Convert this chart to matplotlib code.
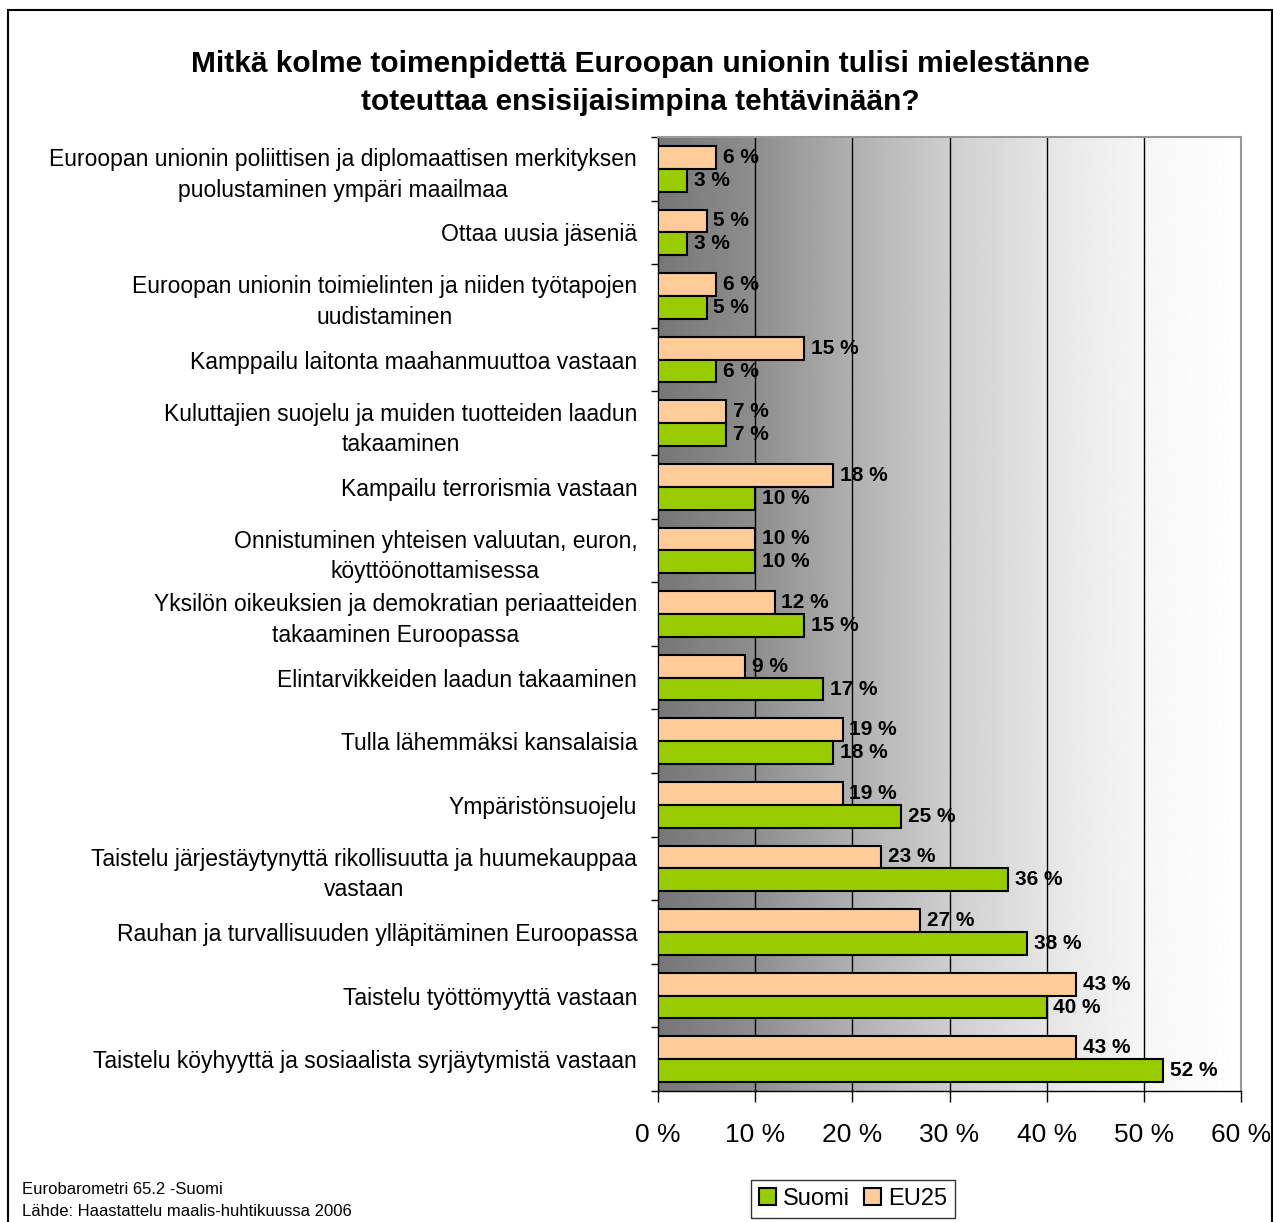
import numpy as np
import matplotlib.pyplot as plt
from matplotlib.patches import Rectangle

plt.rcParams['font.family'] = ['Liberation Sans', 'DejaVu Sans']

categories = [
    "Euroopan unionin poliittisen ja diplomaattisen merkityksen\npuolustaminen ympäri maailmaa",
    "Ottaa uusia jäseniä",
    "Euroopan unionin toimielinten ja niiden työtapojen\nuudistaminen",
    "Kamppailu laitonta maahanmuuttoa vastaan",
    "Kuluttajien suojelu ja muiden tuotteiden laadun\ntakaaminen",
    "Kampailu terrorismia vastaan",
    "Onnistuminen yhteisen valuutan, euron,\nköyttöönottamisessa",
    "Yksilön oikeuksien ja demokratian periaatteiden\ntakaaminen Euroopassa",
    "Elintarvikkeiden laadun takaaminen",
    "Tulla lähemmäksi kansalaisia",
    "Ympäristönsuojelu",
    "Taistelu järjestäytynyttä rikollisuutta ja huumekauppaa\nvastaan",
    "Rauhan ja turvallisuuden ylläpitäminen Euroopassa",
    "Taistelu työttömyyttä vastaan",
    "Taistelu köyhyyttä ja sosiaalista syrjäytymistä vastaan",
]
eu25 = [6, 5, 6, 15, 7, 18, 10, 12, 9, 19, 19, 23, 27, 43, 43]
suomi = [3, 3, 5, 6, 7, 10, 10, 15, 17, 18, 25, 36, 38, 40, 52]
xticks = [0, 10, 20, 30, 40, 50, 60]

W, H = 1273, 1222
fig = plt.figure(figsize=(W / 100, H / 100), dpi=100)
ax = fig.add_axes([658 / W, 1 - 1091 / H, (1241 - 658) / W, (1091 - 137) / H])

n = len(categories)
y = np.arange(n)
h = 0.36

# gradient background, dark grey on the left to white on the right
gx = np.linspace(0, 60, 600)
gv = np.interp(gx, [0, 10, 20, 30, 40, 50, 60], [119, 142, 176, 206, 229, 246, 255]) / 255
grad = np.tile(gv, (2, 1))
ax.imshow(grad, cmap='gray', vmin=0, vmax=1, extent=[0, 60, n - 0.5, -0.5],
          aspect='auto', zorder=0)

for xv in xticks[1:-1]:
    ax.axvline(xv, color='black', lw=1, zorder=1)

ax.barh(y - h / 2, eu25, height=h, color='#FFCC99', edgecolor='black', lw=1.5, zorder=3, label='EU25')
ax.barh(y + h / 2, suomi, height=h, color='#99CC00', edgecolor='black', lw=1.5, zorder=3, label='Suomi')

for i in range(n):
    ax.text(eu25[i] + 0.7, y[i] - h / 2, f"{eu25[i]} %", va='center', ha='left',
            fontsize=15, fontweight='bold', zorder=4)
    ax.text(suomi[i] + 0.7, y[i] + h / 2, f"{suomi[i]} %", va='center', ha='left',
            fontsize=15, fontweight='bold', zorder=4)

ax.set_xlim(0, 60)
ax.set_ylim(n - 0.5, -0.5)
ax.set_xticks(xticks)
ax.set_xticklabels([f"{v} %" for v in xticks], fontsize=19)
ax.tick_params(axis='x', length=8, width=1, pad=15)
ax.set_yticks(np.arange(n + 1) - 0.5, minor=True)
ax.set_yticks(y)
ax.set_yticklabels(categories, fontsize=16.5, linespacing=1.42)
ax.tick_params(axis='y', which='major', length=0, pad=15)
ax.tick_params(axis='y', which='minor', length=5, width=1)
for lbl in ax.get_yticklabels():
    lbl.set_multialignment('center')

for s in ['top', 'right']:
    ax.spines[s].set_color('#999999')
    ax.spines[s].set_linewidth(1.5)
for s in ['left', 'bottom']:
    ax.spines[s].set_color('black')
    ax.spines[s].set_linewidth(1)

fig.text(640 / W, 1 - 83 / H,
         "Mitkä kolme toimenpidettä Euroopan unionin tulisi mielestänne\ntoteuttaa ensisijaisimpina tehtävinään?",
         ha='center', va='center', fontsize=21.5, fontweight='bold', linespacing=1.5)

fig.text(22 / W, 1 - 1190 / H, "Eurobarometri 65.2 -Suomi", fontsize=12, va='center')
fig.text(22 / W, 1 - 1212 / H, "Lähde: Haastattelu maalis-huhtikuussa 2006", fontsize=12, va='center')

handles, labels = ax.get_legend_handles_labels()
leg = fig.legend(handles[::-1], labels[::-1], loc='center', bbox_to_anchor=(853 / W, 1 - 1199 / H),
                 ncol=2, fontsize=17, frameon=True, fancybox=False, edgecolor='black',
                 handlelength=0.7, handleheight=0.7, handletextpad=0.3, columnspacing=0.6,
                 borderpad=0.35)
leg.get_frame().set_linewidth(1)

fig.patches.append(Rectangle((8 / W, -0.01), (1272 - 8) / W, 1 - 10 / H + 0.01,
                             transform=fig.transFigure, fill=False, edgecolor='black', lw=1.5))

fig.savefig('out.png', dpi=100)
